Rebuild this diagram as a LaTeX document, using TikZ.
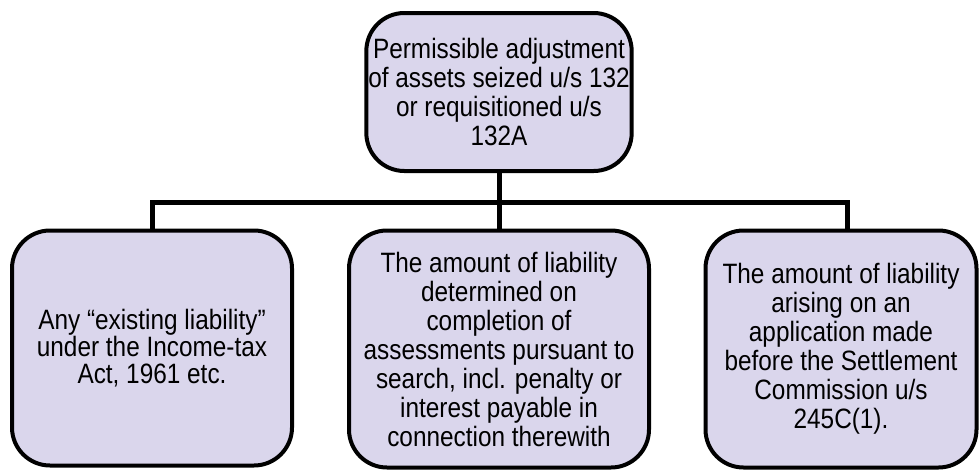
\documentclass[tikz,border=0pt]{standalone}
\usepackage{fontspec}
\setmainfont{Liberation Sans}[FakeStretch=0.87]
\usetikzlibrary{positioning}
\definecolor{boxfill}{RGB}{218,214,236}

\begin{document}
\begin{tikzpicture}[x=1pt, y=-1pt,
    box/.style={draw, line width=4pt, fill=boxfill, rounded corners=38pt, align=center,
      inner sep=2pt, font={\fontsize{28}{29}\selectfont}},
    link/.style={draw, line width=5pt}]
  \useasboundingbox (0,0) rectangle (980,474);
  % root
  \node[box, minimum width=255pt, minimum height=158pt] (root) at (499,92)
       {Permissible adjustment\\ of assets seized u/s 132\\ or requisitioned u/s\\ 132A};
  % three kinds of liability
  \node[box, minimum width=280pt, minimum height=235pt, font={\fontsize{28}{27}\selectfont}] (exist) at (152,348)
       {Any “existing liability”\\ under the Income-tax\\ Act, 1961 etc.};
  \node[box, minimum width=300pt, minimum height=237pt] (assess) at (499,349)
       {The amount of liability\\ determined on\\ completion of\\ assessments pursuant to\\ search, incl. penalty or\\ interest payable in\\ connection therewith};
  \node[box, minimum width=271pt, minimum height=237pt] (settle) at (841,349)
       {The amount of liability\\ arising on an\\ application made\\ before the Settlement\\ Commission u/s\\ 245C(1).};
  % connectors
  \coordinate (bar) at (499,202);
  \draw[link] (root.south) -- (assess.north);
  \draw[link] (exist.north) |- (bar) -| (847,0 |- settle.north);
\end{tikzpicture}
\end{document}
